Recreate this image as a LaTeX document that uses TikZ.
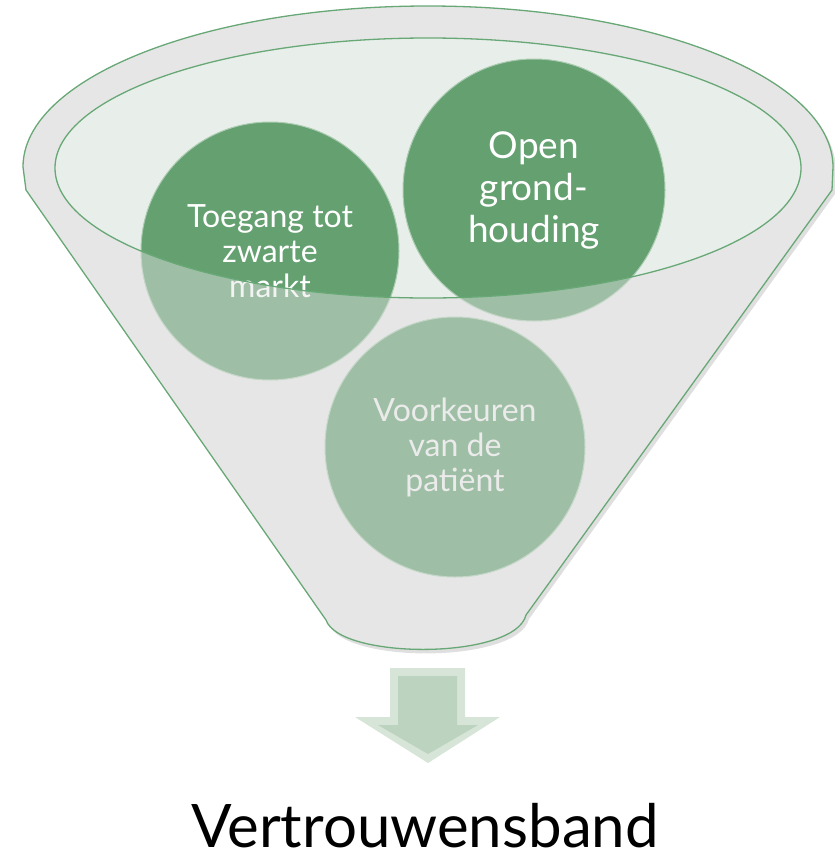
\documentclass[tikz,border=0pt]{standalone}
\usepackage{fontspec}
\setmainfont{Lato}
\usepackage{tikz}
\usepackage{xcolor}
\usetikzlibrary{shadows}
\definecolor{funnel-grey}{RGB}{230,230,230}
\definecolor{funnel-green}{RGB}{104,168,118}
\definecolor{mouth-fill}{RGB}{232,239,234}
\definecolor{ball-green}{RGB}{100,160,112}
\definecolor{arrow-light}{RGB}{214,229,215}
\definecolor{arrow-dark}{RGB}{188,211,191}
\newcommand{\funnelpath}{(23,167) arc[start angle=180, end angle=360, x radius=405, y radius=161]
    -- (832,190) -- (526,615) .. controls (515,660) and (340,660) .. (326,620) -- (26,190) -- cycle}
\newcommand{\mouthpath}{(428,168) ellipse [x radius=373, y radius=130]}
\tikzset{
    funnel-line/.style = {draw=funnel-green, line width=1.3pt},
    item-ball/.style = {circle, fill=ball-green, draw=ball-green!55!white, line width=1pt, minimum size=260pt, inner sep=0pt, text=white, align=center},
    item-small/.style = {font=\fontsize{32}{35}\selectfont},
    item-large/.style = {font=\fontsize{37}{42}\selectfont},
}

\begin{document}
\begin{tikzpicture}[x=1pt, y=-1pt]
\useasboundingbox (0,0) rectangle (835,857);
% funnel body and mouth
\fill[funnel-grey, drop shadow={shadow xshift=3pt, shadow yshift=-4pt, opacity=0.25}] \funnelpath;
\fill[mouth-fill] \mouthpath;
% the three balls
\node[item-ball, item-small, minimum size=258pt] (market) at (270,251) {Toegang tot\\zwarte\\markt};
\node[item-ball, item-large, minimum size=262pt] (attitude) at (534,190) {Open\\grond-\\houding};
\node[item-ball, item-small, text=white!88!gray] (wishes) at (455,447) {Voorkeuren\\van de\\patiënt};
% front of the funnel, seen through
\fill[funnel-grey, opacity=0.45, even odd rule] \funnelpath \mouthpath;
\draw[funnel-line] \funnelpath;
\draw[funnel-line] \mouthpath;
% arrow and result
\fill[arrow-light] (390,668) -- (465,668) -- (465,717) -- (500,717) -- (428,763) -- (355,717) -- (390,717) -- cycle;
\fill[arrow-dark] (398,676) -- (457,676) -- (457,725) -- (478,725) -- (428,754) -- (378,725) -- (398,725) -- cycle;
\node[anchor=base, inner sep=0pt, font=\fontsize{60}{70}\selectfont] (trust) at (425,847) {Vertrouwensband};
\end{tikzpicture}
\end{document}
